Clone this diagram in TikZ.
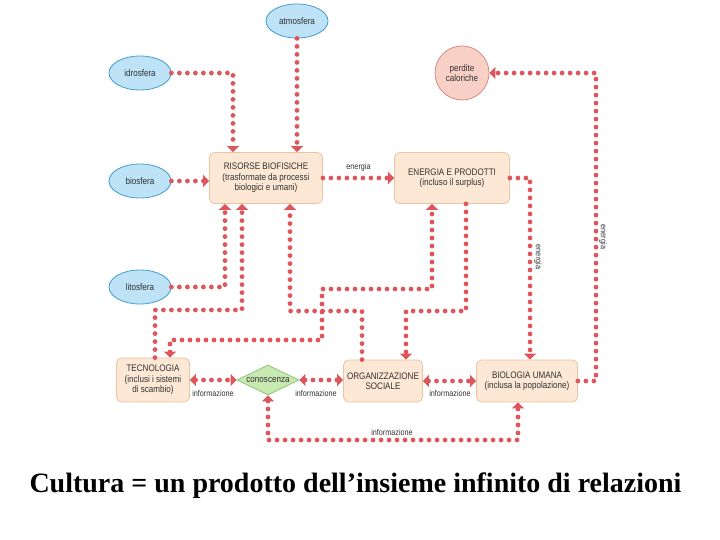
\documentclass[tikz,border=0pt]{standalone}
\usepackage{fontspec}
\setmainfont{Liberation Serif}
\newfontfamily\cond[FakeStretch=0.85]{Liberation Sans}
\usetikzlibrary{arrows.meta,shapes.geometric}
\definecolor{dotred}{RGB}{222,86,92}
\definecolor{boxfill}{RGB}{252,232,212}
\definecolor{boxline}{RGB}{232,196,164}
\definecolor{ellfill}{RGB}{190,226,246}
\definecolor{ellline}{RGB}{70,156,206}
\definecolor{circfill}{RGB}{248,208,198}
\definecolor{circline}{RGB}{214,140,130}
\definecolor{diafill}{RGB}{200,234,178}
\definecolor{dialine}{RGB}{140,196,112}
\definecolor{txt}{RGB}{50,50,50}
\tikzset{
  dl/.style={draw=dotred, line width=4.8pt, line cap=round, dash pattern=on 0pt off 8pt,
    arrows={-}, >={Triangle[length=6pt,width=12pt]}},
  boxnode/.style={draw=boxline, fill=boxfill, line width=0.8pt, rounded corners=5pt,
    align=center, text=txt, font=\cond\fontsize{9.5}{10.5}\selectfont, inner sep=2pt},
  ellnode/.style={ellipse, draw=ellline, fill=ellfill, line width=0.8pt,
    minimum width=62pt, minimum height=34pt, text=txt, font=\cond\fontsize{9.5}{10.5}\selectfont, inner sep=0pt},
  lab/.style={text=txt, font=\cond\fontsize{8.5}{9.5}\selectfont, inner sep=1pt},
}
\begin{document}
\begin{tikzpicture}[x=1pt,y=-1pt]
\useasboundingbox (0,0) rectangle (720,540);
\fill[white] (0,0) rectangle (720,540);
% nodes
\node[ellnode] (atm) at (297,21) {atmosfera};
\node[ellnode] (idro) at (140,73) {idrosfera};
\node[ellnode] (bio) at (140,181) {biosfera};
\node[ellnode] (lito) at (140,287) {litosfera};
\node[circle, draw=circline, fill=circfill, line width=0.8pt, minimum size=54pt, inner sep=0pt,
  align=center, text=txt, font=\cond\fontsize{9.5}{10.5}\selectfont] (perd) at (462,73) {perdite\\caloriche};
\node[boxnode, minimum width=113pt, minimum height=51pt] (ris) at (266,178)
  {RISORSE BIOFISICHE\\(trasformate da processi\\biologici e umani)};
\node[boxnode, minimum width=115pt, minimum height=51pt] (ene) at (452,178)
  {ENERGIA E PRODOTTI\\(incluso il surplus)};
\node[boxnode, minimum width=73pt, minimum height=44pt] (tec) at (153,380)
  {TECNOLOGIA\\(inclusi i sistemi\\di scambio)};
\node[diamond, draw=dialine, fill=diafill, line width=0.8pt, minimum width=62pt, minimum height=30pt,
  inner sep=0pt, label={[text=txt, font=\cond\fontsize{9.5}{10.5}\selectfont]center:conoscenza}] (con) at (268,380) {};
\node[boxnode, minimum width=79pt, minimum height=42pt] (org) at (383,381)
  {ORGANIZZAZIONE\\SOCIALE};
\node[boxnode, minimum width=101pt, minimum height=42pt] (biol) at (527,381)
  {BIOLOGIA UMANA\\(inclusa la popolazione)};
% connectors
\draw[dl,->] (atm.south) -- (atm.south |- ris.north);
\draw[dl,->] (idro.east) -| ([xshift=-33pt]ris.north);
\draw[dl,->] (bio.east) -- (bio.east -| ris.west);
\draw[dl,->] (ris.east) -- node[lab, above=3pt]{energia} (ris.east -| ene.west);
\draw[dl,->] (ene.east) -| ([xshift=3pt]biol.north);
\node[lab, rotate=-90] (en1) at (538,257) {energia};
\draw[dl,->] (biol.east) -- (596,381) |- (perd.east);
\node[lab, rotate=-90] (en2) at (603,237) {energia};
\draw[dl,<->] (con.south) |- (518,440) -- ([xshift=-9pt]biol.south);
\node[lab] (inf4) at (392,432) {informazione};
\draw[dl,<->] (tec.east) -- (tec.east -| con.west);
\node[lab] (inf1) at (213,393) {informazione};
\draw[dl,<->] (con.east) -- (con.east -| org.west);
\node[lab] (inf2) at (316,393) {informazione};
\draw[dl,<->] (org.east) -- (org.east -| biol.west);
\node[lab] (inf3) at (450,393) {informazione};
\draw[dl,->] (lito.east) -| ([xshift=-41pt]ris.south);
\draw[dl,->] ([xshift=2pt]tec.north) |- (242,310) -- ([xshift=-24pt]ris.south);
\draw[dl,->] ([xshift=-21pt]org.north) |- (290,311) -- ([xshift=24pt]ris.south);
\draw[dl,->] ([xshift=14pt]ene.south) |- (406,311) -- ([xshift=23pt]org.north);
\draw[dl,<->] ([xshift=17pt]tec.north) |- (322,340) |- (432,289) -- ([xshift=-20pt]ene.south);
% caption
\node[font=\bfseries\fontsize{28}{32}\selectfont, inner sep=0pt] (cap) at (355.5,486)
  {Cultura = un prodotto dell’insieme infinito di relazioni};
\end{tikzpicture}
\end{document}
